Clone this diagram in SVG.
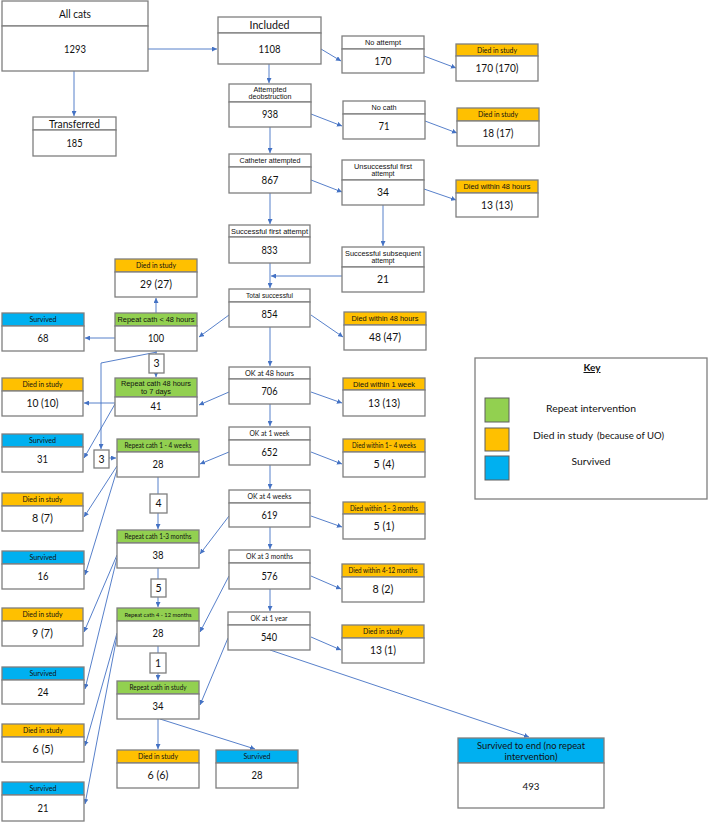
<svg xmlns="http://www.w3.org/2000/svg" width="709" height="822" viewBox="0 0 709 822">
<defs>
<style>
.b{fill:#fff;stroke:#7f7f7f;stroke-width:1.3}
.o{fill:#FFC000;stroke:#7f7f7f;stroke-width:1.3}
.g{fill:#92D050;stroke:#7f7f7f;stroke-width:1.3}
.s{fill:#00B0F0;stroke:#7f7f7f;stroke-width:1.3}
.a{font-family:"Liberation Sans",Arial,sans-serif;font-size:7.5px;text-anchor:middle;fill:#111}
.c{font-family:Lato,"Open Sans",sans-serif;font-size:8px;text-anchor:middle;fill:#111}
.c7{font-family:Lato,"Open Sans",sans-serif;font-size:7px;text-anchor:middle;fill:#111}
.v{font-family:Lato,"Open Sans",sans-serif;font-size:10.5px;text-anchor:middle;fill:#111}
.L{font-family:Lato,"Open Sans",sans-serif;font-size:11.5px;text-anchor:middle;fill:#111}
.k{font-family:Lato,"Open Sans",sans-serif;font-size:10px;fill:#111}
.cn{fill:none;stroke:#4472C4;stroke-width:0.9;marker-end:url(#ah)}
</style>
<marker id="ah" markerUnits="userSpaceOnUse" markerWidth="5" markerHeight="5" refX="5" refY="2.5" orient="auto">
<path d="M0,0 L5,2.5 L0,5 z" fill="#4472C4"/>
</marker>
</defs>
<rect width="709" height="822" fill="#fff"/>

<g id="connectors">
<line class="cn" x1="148" y1="49" x2="217" y2="49"/>
<line class="cn" x1="74" y1="71" x2="74" y2="116"/>
<line class="cn" x1="269" y1="64" x2="269" y2="83"/>
<line class="cn" x1="321" y1="49" x2="341" y2="61"/>
<line class="cn" x1="270" y1="127" x2="270" y2="153"/>
<line class="cn" x1="311" y1="114" x2="342" y2="126"/>
<line class="cn" x1="424" y1="56" x2="456" y2="68"/>
<line class="cn" x1="425" y1="121" x2="457" y2="133"/>
<line class="cn" x1="311" y1="180" x2="342" y2="192"/>
<line class="cn" x1="424" y1="189" x2="456" y2="200"/>
<line class="cn" x1="270" y1="193" x2="270" y2="224"/>
<line class="cn" x1="383" y1="205" x2="383" y2="246"/>
<line class="cn" x1="342" y1="276" x2="271" y2="276"/>
<line class="cn" x1="270" y1="263" x2="270" y2="288"/>
<line class="cn" x1="311" y1="315" x2="343" y2="337"/>
<line class="cn" x1="229" y1="315" x2="199" y2="337"/>
<line class="cn" x1="156" y1="313" x2="156" y2="298"/>
<line class="cn" x1="115" y1="338" x2="85" y2="338"/>
<line class="cn" x1="156" y1="351" x2="156" y2="377"/>
<polyline class="cn" points="157,352 101,363 101,449"/>
<line class="cn" x1="109" y1="458" x2="116" y2="458"/>
<line class="cn" x1="270" y1="327" x2="270" y2="366"/>
<line class="cn" x1="229" y1="392" x2="199" y2="405"/>
<line class="cn" x1="311" y1="392" x2="342" y2="403"/>
<line class="cn" x1="115" y1="403" x2="84" y2="403"/>
<line class="cn" x1="115" y1="404" x2="84" y2="458"/>
<line class="cn" x1="270" y1="404" x2="270" y2="426"/>
<line class="cn" x1="229" y1="452" x2="200" y2="464"/>
<line class="cn" x1="311" y1="452" x2="342" y2="464"/>
<line class="cn" x1="117" y1="466" x2="84" y2="517"/>
<line class="cn" x1="117" y1="470" x2="85" y2="575"/>
<line class="cn" x1="158" y1="477" x2="158" y2="529"/>
<line class="cn" x1="270" y1="465" x2="270" y2="489"/>
<line class="cn" x1="229" y1="516" x2="200" y2="554"/>
<line class="cn" x1="311" y1="516" x2="342" y2="527"/>
<line class="cn" x1="270" y1="527" x2="270" y2="549"/>
<line class="cn" x1="117" y1="555" x2="84" y2="632"/>
<line class="cn" x1="117" y1="558" x2="85" y2="689"/>
<line class="cn" x1="158" y1="568" x2="158" y2="607"/>
<line class="cn" x1="229" y1="576" x2="200" y2="632"/>
<line class="cn" x1="311" y1="576" x2="341" y2="589"/>
<line class="cn" x1="270" y1="589" x2="270" y2="611"/>
<line class="cn" x1="311" y1="637" x2="341" y2="650"/>
<line class="cn" x1="228" y1="638" x2="200" y2="705"/>
<line class="cn" x1="270" y1="650" x2="529" y2="737"/>
<line class="cn" x1="117" y1="633" x2="85" y2="746"/>
<line class="cn" x1="117" y1="636" x2="85" y2="804"/>
<line class="cn" x1="158" y1="646" x2="158" y2="680"/>
<line class="cn" x1="158" y1="719" x2="158" y2="749"/>
<line class="cn" x1="160" y1="719" x2="255" y2="749"/>
</g>

<g id="n-allcats"><rect class="b" x="2" y="1" width="146" height="25"/><rect class="b" x="2" y="26" width="146" height="45"/><text class="L" x="75" y="17.5" textLength="32" lengthAdjust="spacingAndGlyphs">All cats</text><text class="L" x="75" y="52.5" textLength="22" lengthAdjust="spacingAndGlyphs">1293</text></g>
<g id="n-included"><rect class="b" x="218" y="17" width="103" height="16"/><rect class="b" x="218" y="33" width="103" height="31"/><text class="L" x="269.5" y="29" textLength="40" lengthAdjust="spacingAndGlyphs">Included</text><text class="L" x="269.5" y="52.5" textLength="22" lengthAdjust="spacingAndGlyphs">1108</text></g>
<g id="n-transferred"><rect class="b" x="33" y="117" width="83" height="13"/><rect class="b" x="33" y="130" width="83" height="26"/><text class="L" x="74.5" y="127.5" style="font-size:10.5px" textLength="51" lengthAdjust="spacingAndGlyphs">Transferred</text><text class="v" x="74.5" y="146.7" textLength="16" lengthAdjust="spacingAndGlyphs">185</text></g>
<g id="n-attempted"><rect class="b" x="229" y="84" width="82" height="18"/><rect class="b" x="229" y="102" width="82" height="25"/><text class="a" x="270" y="91.5" style="font-size:7px" textLength="33" lengthAdjust="spacingAndGlyphs">Attempted</text><text class="a" x="270" y="99" style="font-size:7px" textLength="43" lengthAdjust="spacingAndGlyphs">deobstruction</text><text class="v" x="270" y="118.2" textLength="16" lengthAdjust="spacingAndGlyphs">938</text></g>
<g id="n-catheter"><rect class="b" x="229" y="154" width="82" height="13"/><rect class="b" x="229" y="167" width="82" height="26"/><text class="a" x="270" y="163.1" textLength="61" lengthAdjust="spacingAndGlyphs">Catheter attempted</text><text class="v" x="270" y="183.7" textLength="17" lengthAdjust="spacingAndGlyphs">867</text></g>
<g id="n-noattempt"><rect class="b" x="342" y="36" width="82" height="13"/><rect class="b" x="342" y="49" width="82" height="24"/><text class="a" x="383" y="45.1" textLength="36" lengthAdjust="spacingAndGlyphs">No attempt</text><text class="v" x="383" y="64.7" textLength="17" lengthAdjust="spacingAndGlyphs">170</text></g>
<g id="n-died170"><rect class="o" x="456" y="44" width="82" height="12"/><rect class="b" x="456" y="56" width="82" height="25"/><text class="c" x="497" y="52.8" textLength="40" lengthAdjust="spacingAndGlyphs">Died in study</text><text class="v" x="497" y="72.2" textLength="43" lengthAdjust="spacingAndGlyphs">170 (170)</text></g>
<g id="n-nocath"><rect class="b" x="343" y="101" width="82" height="13"/><rect class="b" x="343" y="114" width="82" height="25"/><text class="a" x="384" y="110.1" textLength="25" lengthAdjust="spacingAndGlyphs">No cath</text><text class="v" x="384" y="130.2" textLength="11" lengthAdjust="spacingAndGlyphs">71</text></g>
<g id="n-died18"><rect class="o" x="457" y="108" width="82" height="13"/><rect class="b" x="457" y="121" width="82" height="25"/><text class="c" x="498" y="117.3" textLength="40" lengthAdjust="spacingAndGlyphs">Died in study</text><text class="v" x="498" y="137.2" textLength="31" lengthAdjust="spacingAndGlyphs">18 (17)</text></g>
<g id="n-unsucc"><rect class="b" x="342" y="160" width="82" height="20"/><rect class="b" x="342" y="180" width="82" height="25"/><text class="a" x="383" y="168.5" textLength="58" lengthAdjust="spacingAndGlyphs">Unsuccessful first</text><text class="a" x="383" y="176" textLength="23" lengthAdjust="spacingAndGlyphs">attempt</text><text class="v" x="383" y="196.2" textLength="12" lengthAdjust="spacingAndGlyphs">34</text></g>
<g id="n-died13a"><rect class="o" x="456" y="180" width="82" height="13"/><rect class="b" x="456" y="193" width="82" height="24"/><text class="a" x="497" y="189.1" textLength="67" lengthAdjust="spacingAndGlyphs">Died within 48 hours</text><text class="v" x="497" y="208.7" textLength="32" lengthAdjust="spacingAndGlyphs">13 (13)</text></g>
<g id="n-succfirst"><rect class="b" x="229" y="225" width="81" height="12"/><rect class="b" x="229" y="237" width="81" height="26"/><text class="a" x="269.5" y="233.6" textLength="77" lengthAdjust="spacingAndGlyphs">Successful first attempt</text><text class="v" x="269.5" y="253.7" textLength="16" lengthAdjust="spacingAndGlyphs">833</text></g>
<g id="n-succsub"><rect class="b" x="342" y="247" width="82" height="20"/><rect class="b" x="342" y="267" width="82" height="25"/><text class="a" x="383" y="255.5" textLength="76" lengthAdjust="spacingAndGlyphs">Successful subsequent</text><text class="a" x="383" y="263" textLength="23" lengthAdjust="spacingAndGlyphs">attempt</text><text class="v" x="383" y="283.2" textLength="12" lengthAdjust="spacingAndGlyphs">21</text></g>
<g id="n-total"><rect class="b" x="229" y="289" width="81" height="13"/><rect class="b" x="229" y="302" width="81" height="25"/><text class="a" x="269.5" y="298.1" textLength="47" lengthAdjust="spacingAndGlyphs">Total successful</text><text class="v" x="269.5" y="318.2" textLength="16" lengthAdjust="spacingAndGlyphs">854</text></g>
<g id="n-died48"><rect class="o" x="344" y="312" width="82" height="13"/><rect class="b" x="344" y="325" width="82" height="25"/><text class="a" x="385" y="321.1" textLength="67" lengthAdjust="spacingAndGlyphs">Died within 48 hours</text><text class="v" x="385" y="341.2" textLength="32" lengthAdjust="spacingAndGlyphs">48 (47)</text></g>
<g id="n-died29"><rect class="o" x="115" y="259" width="82" height="13"/><rect class="b" x="115" y="272" width="82" height="25"/><text class="c" x="156" y="268.3" textLength="40" lengthAdjust="spacingAndGlyphs">Died in study</text><text class="v" x="156" y="288.2" textLength="32" lengthAdjust="spacingAndGlyphs">29 (27)</text></g>
<g id="n-rep48"><rect class="g" x="115" y="313" width="82" height="13"/><rect class="b" x="115" y="326" width="82" height="25"/><text class="a" x="156" y="322.1" textLength="77" lengthAdjust="spacingAndGlyphs">Repeat cath &lt; 48 hours</text><text class="v" x="156" y="342.2" textLength="16" lengthAdjust="spacingAndGlyphs">100</text></g>
<g id="n-surv68"><rect class="s" x="2" y="313" width="82" height="13"/><rect class="b" x="2" y="326" width="82" height="25"/><text class="c" x="43" y="322.3" textLength="27" lengthAdjust="spacingAndGlyphs">Survived</text><text class="v" x="43" y="342.2" textLength="11" lengthAdjust="spacingAndGlyphs">68</text></g>
<g id="n-box3a"><rect class="b" x="149" y="354" width="15" height="19"/><text class="v" x="156.5" y="367.2">3</text></g>
<g id="n-rep7d"><rect class="g" x="115" y="378" width="82" height="19"/><rect class="b" x="115" y="397" width="82" height="19"/><text class="a" x="156" y="385.5" textLength="70" lengthAdjust="spacingAndGlyphs">Repeat cath 48 hours</text><text class="a" x="156" y="393.5" textLength="30" lengthAdjust="spacingAndGlyphs">to 7 days</text><text class="v" x="156" y="410.2" textLength="11" lengthAdjust="spacingAndGlyphs">41</text></g>
<g id="n-ok48"><rect class="b" x="229" y="367" width="81" height="12"/><rect class="b" x="229" y="379" width="81" height="25"/><text class="c" x="269.5" y="375.8" textLength="49" lengthAdjust="spacingAndGlyphs">OK at 48 hours</text><text class="v" x="269.5" y="395.2" textLength="16" lengthAdjust="spacingAndGlyphs">706</text></g>
<g id="n-died1wk"><rect class="o" x="343" y="378" width="82" height="12"/><rect class="b" x="343" y="390" width="82" height="26"/><text class="a" x="384" y="386.6" textLength="62" lengthAdjust="spacingAndGlyphs">Died within 1 week</text><text class="v" x="384" y="406.7" textLength="32" lengthAdjust="spacingAndGlyphs">13 (13)</text></g>
<g id="n-died10"><rect class="o" x="2" y="378" width="81" height="13"/><rect class="b" x="2" y="391" width="81" height="25"/><text class="c" x="42.5" y="387.3" textLength="40" lengthAdjust="spacingAndGlyphs">Died in study</text><text class="v" x="42.5" y="407.2" textLength="32" lengthAdjust="spacingAndGlyphs">10 (10)</text></g>
<g id="n-surv31"><rect class="s" x="2" y="434" width="81" height="13"/><rect class="b" x="2" y="447" width="81" height="25"/><text class="c" x="42.5" y="443.3" textLength="27" lengthAdjust="spacingAndGlyphs">Survived</text><text class="v" x="42.5" y="463.2" textLength="11" lengthAdjust="spacingAndGlyphs">31</text></g>
<g id="n-box3b"><rect class="b" x="94" y="450" width="15" height="18"/><text class="v" x="101.5" y="462.7">3</text></g>
<g id="n-rep14"><rect class="g" x="117" y="439" width="82" height="13"/><rect class="b" x="117" y="452" width="82" height="25"/><text class="c7" x="158" y="448" textLength="67" lengthAdjust="spacingAndGlyphs">Repeat cath 1 - 4 weeks</text><text class="v" x="158" y="468.2" textLength="11" lengthAdjust="spacingAndGlyphs">28</text></g>
<g id="n-ok1wk"><rect class="b" x="229" y="427" width="81" height="13"/><rect class="b" x="229" y="440" width="81" height="25"/><text class="c" x="269.5" y="436.3" textLength="40" lengthAdjust="spacingAndGlyphs">OK at 1 week</text><text class="v" x="269.5" y="456.2" textLength="16" lengthAdjust="spacingAndGlyphs">652</text></g>
<g id="n-died14wk"><rect class="o" x="343" y="439" width="82" height="13"/><rect class="b" x="343" y="452" width="82" height="25"/><text class="c7" x="384" y="448" textLength="64" lengthAdjust="spacingAndGlyphs">Died within 1– 4 weeks</text><text class="v" x="384" y="468.2" textLength="21" lengthAdjust="spacingAndGlyphs">5 (4)</text></g>
<g id="n-died87"><rect class="o" x="2" y="493" width="81" height="13"/><rect class="b" x="2" y="506" width="81" height="25"/><text class="c" x="42.5" y="502.3" textLength="40" lengthAdjust="spacingAndGlyphs">Died in study</text><text class="v" x="42.5" y="522.2" textLength="21" lengthAdjust="spacingAndGlyphs">8 (7)</text></g>
<g id="n-box4"><rect class="b" x="150" y="494" width="17" height="19"/><text class="v" x="158.5" y="507.2">4</text></g>
<g id="n-rep13m"><rect class="g" x="117" y="530" width="82" height="13"/><rect class="b" x="117" y="543" width="82" height="25"/><text class="c7" x="158" y="539" textLength="67" lengthAdjust="spacingAndGlyphs">Repeat cath 1-3 months</text><text class="v" x="158" y="559.2" textLength="11" lengthAdjust="spacingAndGlyphs">38</text></g>
<g id="n-ok4wk"><rect class="b" x="229" y="490" width="81" height="13"/><rect class="b" x="229" y="503" width="81" height="24"/><text class="c" x="269.5" y="499.3" textLength="44" lengthAdjust="spacingAndGlyphs">OK at 4 weeks</text><text class="v" x="269.5" y="518.7" textLength="16" lengthAdjust="spacingAndGlyphs">619</text></g>
<g id="n-died13m"><rect class="o" x="343" y="502" width="82" height="12"/><rect class="b" x="343" y="514" width="82" height="25"/><text class="c7" x="384" y="510.5" textLength="68" lengthAdjust="spacingAndGlyphs">Died within 1– 3 months</text><text class="v" x="384" y="530.2" textLength="21" lengthAdjust="spacingAndGlyphs">5 (1)</text></g>
<g id="n-surv16"><rect class="s" x="2" y="551" width="82" height="13"/><rect class="b" x="2" y="564" width="82" height="25"/><text class="c" x="43" y="560.3" textLength="27" lengthAdjust="spacingAndGlyphs">Survived</text><text class="v" x="43" y="580.2" textLength="11" lengthAdjust="spacingAndGlyphs">16</text></g>
<g id="n-box5"><rect class="b" x="151" y="579" width="15" height="18"/><text class="v" x="158.5" y="591.7">5</text></g>
<g id="n-ok3m"><rect class="b" x="229" y="550" width="81" height="13"/><rect class="b" x="229" y="563" width="81" height="26"/><text class="c" x="269.5" y="559.3" textLength="47" lengthAdjust="spacingAndGlyphs">OK at 3 months</text><text class="v" x="269.5" y="579.7" textLength="16" lengthAdjust="spacingAndGlyphs">576</text></g>
<g id="n-died412"><rect class="o" x="342" y="564" width="82" height="13"/><rect class="b" x="342" y="577" width="82" height="25"/><text class="c7" x="383" y="573" textLength="69" lengthAdjust="spacingAndGlyphs">Died within 4-12 months</text><text class="v" x="383" y="593.2" textLength="21" lengthAdjust="spacingAndGlyphs">8 (2)</text></g>
<g id="n-died97"><rect class="o" x="2" y="608" width="81" height="13"/><rect class="b" x="2" y="621" width="81" height="25"/><text class="c" x="42.5" y="617.3" textLength="40" lengthAdjust="spacingAndGlyphs">Died in study</text><text class="v" x="42.5" y="637.2" textLength="21" lengthAdjust="spacingAndGlyphs">9 (7)</text></g>
<g id="n-rep412"><rect class="g" x="117" y="608" width="82" height="13"/><rect class="b" x="117" y="621" width="82" height="25"/><text class="c7" x="158" y="616.8" style="font-size:6.5px" textLength="67" lengthAdjust="spacingAndGlyphs">Repeat cath 4 - 12 months</text><text class="v" x="158" y="637.2" textLength="11" lengthAdjust="spacingAndGlyphs">28</text></g>
<g id="n-ok1y"><rect class="b" x="228" y="612" width="82" height="13"/><rect class="b" x="228" y="625" width="82" height="25"/><text class="c" x="269" y="621.3" textLength="37" lengthAdjust="spacingAndGlyphs">OK at 1 year</text><text class="v" x="269" y="641.2" textLength="16" lengthAdjust="spacingAndGlyphs">540</text></g>
<g id="n-died131"><rect class="o" x="342" y="625" width="82" height="13"/><rect class="b" x="342" y="638" width="82" height="25"/><text class="c" x="383" y="634.3" textLength="40" lengthAdjust="spacingAndGlyphs">Died in study</text><text class="v" x="383" y="654.2" textLength="26" lengthAdjust="spacingAndGlyphs">13 (1)</text></g>
<g id="n-surv24"><rect class="s" x="2" y="667" width="82" height="13"/><rect class="b" x="2" y="680" width="82" height="24"/><text class="c" x="43" y="676.3" textLength="27" lengthAdjust="spacingAndGlyphs">Survived</text><text class="v" x="43" y="695.7" textLength="11" lengthAdjust="spacingAndGlyphs">24</text></g>
<g id="n-box1"><rect class="b" x="150" y="653" width="16" height="20"/><text class="v" x="158" y="666.7">1</text></g>
<g id="n-repstudy"><rect class="g" x="117" y="681" width="82" height="13"/><rect class="b" x="117" y="694" width="82" height="25"/><text class="c7" x="158" y="690" textLength="57" lengthAdjust="spacingAndGlyphs">Repeat cath in study</text><text class="v" x="158" y="710.2" textLength="11" lengthAdjust="spacingAndGlyphs">34</text></g>
<g id="n-died65"><rect class="o" x="2" y="724" width="82" height="13"/><rect class="b" x="2" y="737" width="82" height="25"/><text class="c" x="43" y="733.3" textLength="40" lengthAdjust="spacingAndGlyphs">Died in study</text><text class="v" x="43" y="753.2" textLength="21" lengthAdjust="spacingAndGlyphs">6 (5)</text></g>
<g id="n-surv21"><rect class="s" x="2" y="782" width="82" height="13"/><rect class="b" x="2" y="795" width="82" height="26"/><text class="c" x="43" y="791.3" textLength="27" lengthAdjust="spacingAndGlyphs">Survived</text><text class="v" x="43" y="811.7" textLength="11" lengthAdjust="spacingAndGlyphs">21</text></g>
<g id="n-died66"><rect class="o" x="117" y="750" width="82" height="13"/><rect class="b" x="117" y="763" width="82" height="25"/><text class="c" x="158" y="759.3" textLength="40" lengthAdjust="spacingAndGlyphs">Died in study</text><text class="v" x="158" y="779.2" textLength="21" lengthAdjust="spacingAndGlyphs">6 (6)</text></g>
<g id="n-surv28"><rect class="s" x="216" y="750" width="82" height="13"/><rect class="b" x="216" y="763" width="82" height="25"/><text class="c" x="257" y="759.3" textLength="27" lengthAdjust="spacingAndGlyphs">Survived</text><text class="v" x="257" y="779.2" textLength="11" lengthAdjust="spacingAndGlyphs">28</text></g>
<g id="n-survend"><rect class="s" x="458" y="738" width="146" height="25"/><rect class="b" x="458" y="763" width="146" height="45"/><text class="v" x="531" y="749" style="font-size:9.5px" textLength="108" lengthAdjust="spacingAndGlyphs">Survived to end (no repeat</text><text class="v" x="531" y="759.5" style="font-size:9.5px" textLength="53" lengthAdjust="spacingAndGlyphs">intervention)</text><text class="v" x="531" y="789.5" style="font-size:10px" textLength="17" lengthAdjust="spacingAndGlyphs">493</text></g>

<g id="key">
<rect x="475" y="358" width="232" height="141" fill="#fff" stroke="#7f7f7f" stroke-width="1.3"/>
<text class="k" x="592" y="371" text-anchor="middle" font-weight="bold" text-decoration="underline" textLength="17" lengthAdjust="spacingAndGlyphs">Key</text>
<rect x="485" y="398" width="24" height="24" fill="#92D050" stroke="#5f5f5f" stroke-width="1"/>
<rect x="485" y="428" width="24" height="23" fill="#FFC000" stroke="#5f5f5f" stroke-width="1"/>
<rect x="485" y="456" width="24" height="24" fill="#00B0F0" stroke="#5f5f5f" stroke-width="1"/>
<text class="k" x="591" y="411.5" text-anchor="middle" textLength="90" lengthAdjust="spacingAndGlyphs">Repeat intervention</text>
<text class="k" x="533" y="438.5" textLength="60" lengthAdjust="spacingAndGlyphs">Died in study</text>
<text class="k" x="597" y="438.5" style="font-size:8.8px" textLength="67" lengthAdjust="spacingAndGlyphs">(because of UO)</text>
<text class="k" x="591" y="465" text-anchor="middle" textLength="39" lengthAdjust="spacingAndGlyphs">Survived</text>
</g>
</svg>
